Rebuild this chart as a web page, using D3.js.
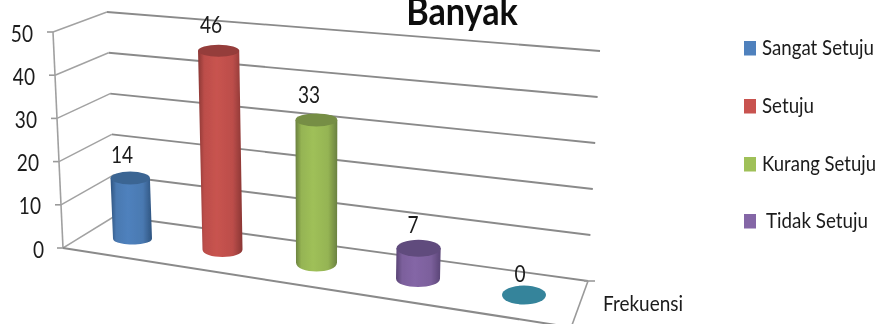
<!DOCTYPE html>
<html>
<head>
<meta charset="utf-8">
<style>
html,body{margin:0;padding:0;background:#fff;overflow:hidden}
svg{display:block}
text{font-family:Lato,"Open Sans",sans-serif;fill:#1a1a1a}
</style>
<script src="https://cdn.jsdelivr.net/npm/d3@7"></script>
</head>
<body>
<svg id="c" width="879" height="324"></svg>
<script>
const categories = ["Sangat Setuju","Setuju","Kurang Setuju","Tidak Setuju","Lainnya"];
const values = [14,46,33,7,0];
const tickValues = [0,10,20,30,40,50];
const titleText = "Banyak";
const axisLabel = "Frekuensi";
const legendItems = ["Sangat Setuju","Setuju","Kurang Setuju","Tidak Setuju"];
const sideColors = ["#4F81BD","#C8534F","#9FC059","#8466A6","#35849B"];
const topColors  = ["#3B6593","#953C3A","#768E44","#614C7D","#35849B"];
const darkColors = ["#2F5480","#8A3634","#6A8040","#5A4576","#35849B"];

const svg = d3.select("#c");
const defs = svg.append("defs");
defs.append("filter").attr("id","soft").attr("x","-5%").attr("y","-5%").attr("width","110%").attr("height","110%")
  .append("feGaussianBlur").attr("stdDeviation",0.35);

const dom = [0,50];
const frontX = d3.scaleLinear(dom,[63,53]);
const frontY = d3.scaleLinear(dom,[248,32]);
const backLX = d3.scaleLinear(dom,[115,107]);
const backLY = d3.scaleLinear(dom,[216,12]);
const backRX = d3.scaleLinear(dom,[588,600]);
const backRY = d3.scaleLinear(dom,[281,51]);

const idx = categories.map((_,i)=>i);
const catX = d3.scaleOrdinal(idx,[132.5,222.5,316.5,418,524]);
const baseY = d3.scaleOrdinal(idx,[238.5,249.5,262.5,278.5,295]);
const radX = d3.scaleOrdinal(idx,[19.5,20,20.5,22,22]);
const radYTop = d3.scaleOrdinal(idx,[6.5,6,6.5,8.5,9.5]);
const radYBot = d3.scaleOrdinal(idx,[6,7.5,9,8.5,9.5]);
const labelBase = d3.scaleOrdinal(idx,[163,33,103,233,282]);
const labelX = d3.scaleOrdinal(idx,[122,211,309,413,520]);
const barH = d3.scaleLinear([0,50],[0,216]);

const g = svg.append("g").attr("filter","url(#soft)");

function label(x,y,str,size,sx,anchor){
  return g.append("text").attr("transform",`translate(${x},${y}) scale(${sx},1)`)
    .attr("text-anchor",anchor||"start").attr("font-size",size).text(str);
}

const grid = g.append("g").attr("fill","none");
function seg(x1,y1,x2,y2,c,w){
  grid.append("line").attr("x1",x1).attr("y1",y1).attr("x2",x2).attr("y2",y2).attr("stroke",c).attr("stroke-width",w);
}
tickValues.forEach(v=>{
  seg(backLX(v),backLY(v),backRX(v),backRY(v),"#8a8a8a",1.9);
  seg(frontX(v),frontY(v),backLX(v),backLY(v),"#a2a2a2",1.5);
  seg(frontX(v)-6,frontY(v),frontX(v),frontY(v),"#9a9a9a",1.6);
  label(frontX(v)-(v===0?19:20),frontY(v)+9.5,v,23,0.83,"end");
});
seg(frontX(0),frontY(0),frontX(50),frontY(50),"#a0a0a0",1.6);
seg(frontX(0),frontY(0),556,325,"#8a8a8a",2);
seg(backRX(0),backRY(0),572,325,"#9a9a9a",1.6);
seg(backRX(0)-4,backRY(0),backRX(0)+7,backRY(0),"#9a9a9a",1.6);

idx.forEach(i=>{
  const id = "grad"+i;
  const gr = defs.append("linearGradient").attr("id",id);
  gr.append("stop").attr("offset","0%").attr("stop-color",darkColors[i]);
  gr.append("stop").attr("offset","14%").attr("stop-color",d3.color(sideColors[i]).darker(0.18));
  gr.append("stop").attr("offset","42%").attr("stop-color",sideColors[i]);
  gr.append("stop").attr("offset","78%").attr("stop-color",d3.color(sideColors[i]).darker(0.18));
  gr.append("stop").attr("offset","100%").attr("stop-color",darkColors[i]);

  const h = barH(values[i]);
  const cx = catX(i), by = baseY(i), rx = radX(i);
  const tx = cx + (cx-320)*h*0.0002, ty = by - h, trx = rx + h*0.003;
  if(values[i]>0){
    const p = d3.path();
    p.moveTo(tx-trx,ty);
    p.lineTo(cx-rx,by);
    p.bezierCurveTo(cx-rx,by+radYBot(i)*1.33,cx+rx,by+radYBot(i)*1.33,cx+rx,by);
    p.lineTo(tx+trx,ty);
    p.closePath();
    g.append("path").attr("d",p.toString()).attr("fill",`url(#${id})`);
  }
  g.append("ellipse").attr("cx",tx).attr("cy",ty).attr("rx",trx).attr("ry",radYTop(i))
    .attr("fill",topColors[i]);
  label(labelX(i),labelBase(i),values[i],23,0.83,"middle");
});

g.append("text").attr("transform","translate(462,25) scale(0.9,1)").attr("text-anchor","middle")
  .attr("font-weight",700).attr("font-size",38).style("fill","#111").text(titleText);

g.append("text").attr("x",603).attr("y",311).attr("font-size",22)
  .attr("textLength",80).attr("lengthAdjust","spacingAndGlyphs").text(axisLabel);

const legY = d3.scaleOrdinal(d3.range(4),[41,99,157,214]);
const legX = d3.scaleOrdinal(d3.range(4),[762,762,762,766]);
const legW = d3.scaleOrdinal(d3.range(4),[112,52,114,102]);
legendItems.forEach((t,i)=>{
  g.append("rect").attr("x",744).attr("y",legY(i)).attr("width",12).attr("height",14.5).attr("fill",sideColors[i]);
  g.append("text").attr("x",legX(i)).attr("y",legY(i)+14).attr("font-size",22)
    .attr("textLength",legW(i)).attr("lengthAdjust","spacingAndGlyphs").text(t);
});
</script>
</body>
</html>
